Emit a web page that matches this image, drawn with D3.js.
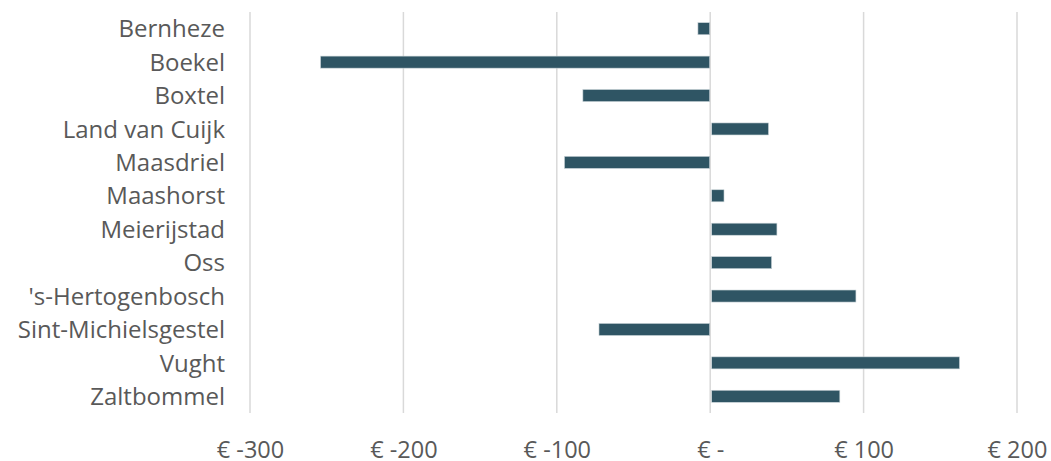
<!DOCTYPE html>
<html>
<head>
<meta charset="utf-8">
<script src="https://cdn.jsdelivr.net/npm/d3@7"></script>
<style>
  html, body { margin: 0; padding: 0; background: #fff; }
  svg { display: block; }
</style>
</head>
<body>
<svg id="chart" width="1051" height="461"></svg>
<script>
const categories = ["Bernheze", "Boekel", "Boxtel", "Land van Cuijk", "Maasdriel", "Maashorst",
  "Meierijstad", "Oss", "'s-Hertogenbosch", "Sint-Michielsgestel", "Vught", "Zaltbommel"];
const values = [-8, -254, -83, 38, -95, 9, 43.5, 40, 95, -72.5, 162.5, 84.5];
const tickValues = [-300, -200, -100, 0, 100, 200];
const tickLabels = ["€ -300", "€ -200", "€ -100", "€ -", "€ 100", "€ 200"];

const svg = d3.select("#chart");
const margin = { left: 250, right: 34, top: 12, bottom: 48 };
const W = 1051, H = 461;

const x = d3.scaleLinear().domain([-300, 200]).range([margin.left, W - margin.right]);
const y = d3.scaleBand().domain(categories).range([margin.top, H - margin.bottom]).paddingInner(0.64).paddingOuter(0.32);

const font = "'Open Sans', 'Noto Sans', sans-serif";
const textColor = "#595959";

// gridlines
svg.append("g")
  .selectAll("line")
  .data(tickValues)
  .join("line")
  .attr("x1", d => x(d)).attr("x2", d => x(d))
  .attr("y1", margin.top).attr("y2", H - margin.bottom)
  .attr("stroke", "#d9d9d9")
  .attr("stroke-width", 1.5);

// bars
svg.append("g")
  .selectAll("rect")
  .data(values)
  .join("rect")
  .attr("x", d => d < 0 ? x(d) : x(0) + 1.5)
  .attr("width", d => Math.abs(x(d) - x(0)) - (d < 0 ? 0.5 : 1.5))
  .attr("y", (d, i) => y(categories[i]))
  .attr("height", y.bandwidth())
  .attr("fill", "#2f5564")
  .attr("stroke", "#c9d3d7")
  .attr("stroke-width", 0.6);

// x axis labels
const xAxis = d3.axisBottom(x).tickValues(tickValues).tickFormat((d, i) => tickLabels[i]).tickSize(0).tickPadding(0);
const gx = svg.append("g").attr("transform", `translate(0, ${H - margin.bottom})`).call(xAxis);
gx.select(".domain").remove();
gx.selectAll("text")
  .attr("y", 44.5).attr("dy", null)
  .attr("fill", textColor)
  .style("font-family", font).style("font-size", "23.5px");

// y axis labels
const yAxis = d3.axisLeft(y).tickSize(0).tickPadding(0);
const gy = svg.append("g").attr("transform", `translate(${margin.left - 25}, 0)`).call(yAxis);
gy.select(".domain").remove();
gy.selectAll("text")
  .attr("dy", "0.36em")
  .attr("fill", textColor)
  .style("font-family", font).style("font-size", "24px");
</script>
</body>
</html>
